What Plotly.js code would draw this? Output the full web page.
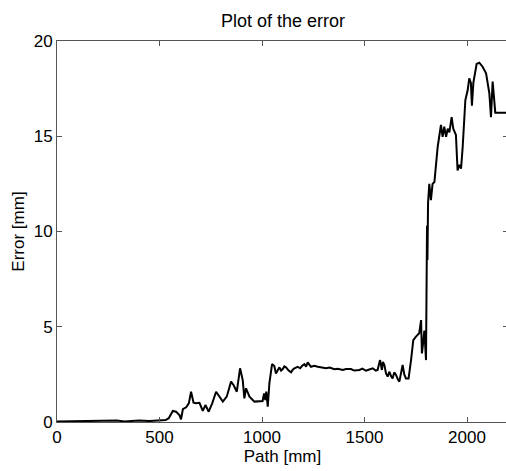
<!DOCTYPE html>
<html>
<head>
<meta charset="utf-8">
<script src="https://cdn.plot.ly/plotly-3.0.1.min.js"></script>
<style>
html,body{margin:0;padding:0;overflow:hidden;background:#fff;width:506px;height:471px;}
#chart{width:510px;height:471px;}
</style>
</head>
<body>
<div id="chart"></div>
<script>
const pathMm = [0,100,180,230,260,290,330,400,450,500,530,545,
  565,581,597,605,614,630,643,654,666,678,695,711,724,740,757,776,792,809,828,849,861,877,893,906,914,922,939,963,1003,1010,1016,1021,1028,
  1036,1049,1060,1068,1077,1085,1093,1101,1109,1117,1130,1142,1150,1158,1174,1186,1196,1207,1215,1223,1239,1255,1272,1290,1312,1330,1353,1370,1394,1410,1434,1450,1475,1490,1507,1520,1540,1555,1564,1570,1576,1585,1590,
  1597,1605,1613,1621,1630,1637,1645,1654,1662,1670,1686,1694,1702,1715,1727,1738,1751,1767,1776,1780,1784,1792,1800,1803,1805,1807,1810,1816,1824,1832,1841,
  1857,1873,1881,1889,1898,1906,1914,1925,1933,1946,1954,1962,1971,1979,1992,2003,2011,2019,2024,2031,2047,2060,2076,2093,2109,2117,2125,2133,2138,2200];
const errorMm = [0.02,0.03,0.04,0.08,0.05,0.08,0.03,0.08,0.05,0.06,0.1,0.2,
  0.58,0.54,0.37,0.14,0.67,0.77,0.98,1.59,1.01,0.98,1.01,0.58,0.89,0.54,0.98,1.59,1.33,1.07,1.33,2.12,1.94,1.59,2.82,2.2,1.24,1.77,1.33,1.07,1.10,1.5,1.15,1.59,0.8,
  2.03,3.04,2.94,2.55,2.69,2.87,2.7,2.78,2.92,2.87,2.7,2.61,2.75,2.82,2.9,2.82,2.95,3.04,2.9,3.13,2.9,2.95,2.9,2.85,2.82,2.86,2.77,2.8,2.73,2.78,2.78,2.7,2.73,2.8,2.69,2.74,2.82,2.7,2.73,3.0,3.25,2.73,3.15,
  2.99,2.55,2.38,2.64,2.4,2.29,2.6,2.47,2.25,2.12,2.99,2.5,2.29,2.29,3.25,4.3,4.48,4.66,5.35,3.6,3.95,4.8,3.25,6.4,10.3,8.5,11.5,12.5,11.65,12.5,12.6,
  14.45,15.6,14.97,15.5,14.97,15.4,15.2,16.0,15.4,15.07,13.2,13.5,13.3,14.45,16.9,17.4,18.04,17.8,16.6,17.8,18.8,18.86,18.65,18.3,17.25,16.0,17.87,16.73,16.24,16.24];
const xTicks = [0,500,1000,1500,2000];
const yTicks = [0,5,10,15,20];

const font = {family: 'Liberation Sans, Arial, sans-serif', color: '#000'};
Plotly.newPlot('chart', [{
  x: pathMm, y: errorMm, type: 'scatter', mode: 'lines',
  line: {color: '#000', width: 2}, hoverinfo: 'skip'
}], {
  width: 510, height: 471,
  margin: {l: 57, r: 2, t: 41, b: 49},
  paper_bgcolor: '#fff', plot_bgcolor: '#fff',
  showlegend: false,
  font: Object.assign({size: 16}, font),
  title: {text: 'Plot of the error', font: Object.assign({size: 18}, font), x: 0.555, xanchor: 'center', yref: 'container', y: 0.957, yanchor: 'middle'},
  xaxis: {
    range: [0, 2200], tickvals: xTicks, ticktext: xTicks.map(String),
    ticks: 'inside', ticklen: 5, tickcolor: '#555', showline: true, linecolor: '#555', linewidth: 1,
    mirror: 'ticks', showgrid: false, zeroline: false,
    tickfont: Object.assign({size: 17}, font),
    title: {text: 'Path [mm]', font: Object.assign({size: 17}, font), standoff: 2}
  },
  yaxis: {
    range: [0, 20], tickvals: yTicks, ticktext: yTicks.map(String),
    ticks: 'inside', ticklen: 5, tickcolor: '#555', showline: true, linecolor: '#555', linewidth: 1,
    mirror: 'ticks', showgrid: false, zeroline: false,
    tickfont: Object.assign({size: 17}, font),
    title: {text: 'Error [mm]', font: Object.assign({size: 17}, font), standoff: 4}
  }
}, {displayModeBar: false, staticPlot: true});
</script>
</body>
</html>
